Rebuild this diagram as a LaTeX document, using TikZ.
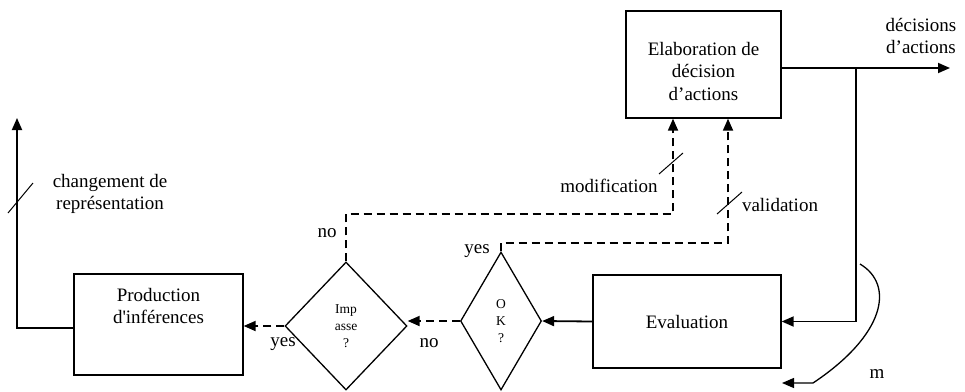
\documentclass[tikz,border=0pt]{standalone}
\usepackage{fontspec}
\setmainfont{Liberation Serif}
\newfontfamily\straightfont{Liberation Serif}
\usetikzlibrary{shapes.geometric,arrows.meta}
\begin{document}
\begin{tikzpicture}[x=1pt,y=-1pt,
  box/.style={draw,line width=1.3pt,rectangle,inner sep=0pt},
  dia/.style={draw,line width=1.3pt,diamond,inner sep=0pt,align=center,font=\fontsize{13.5}{17}\selectfont},
  lbl/.style={inner sep=0pt,align=center,font=\fontsize{19}{22.5}\selectfont},
  conn/.style={line width=1.8pt,-{Triangle[length=12pt,width=10pt]}},
  dconn/.style={conn,dash pattern=on 8pt off 5pt},
  tick/.style={line width=1pt},
]
\useasboundingbox (0,0) rectangle (965,391);
% boxes
\node[box,minimum width=155pt,minimum height=107pt] (elab) at (703.5,64.5) {};
\node[lbl] (elabtxt) at (703.5,71) {Elaboration de\\décision\\d’actions};
\node[box,minimum width=169pt,minimum height=101pt] (prod) at (158.5,324.5) {};
\node[lbl] (prodtxt) at (158.5,306) {Production\\{\straightfont d'inférences}};
\node[box,lbl,minimum width=188pt,minimum height=93pt] (eval) at (687,321.5) {Evaluation};
% diamonds
\node[dia,minimum width=122pt,minimum height=128pt] (imp) at (346,326) {Imp\\asse\\?};
\node[dia,minimum width=81pt,minimum height=138pt] (ok) at (501,321) {O\\K\\?};
% coordinates
\coordinate (outend) at (950,68);
\coordinate (br) at (856,68);
\coordinate (chg) at (17,118);
\coordinate (modc) at (673,214);
\coordinate (valc) at (728,243);
\coordinate (mstart) at (860,264);
\coordinate (mend) at (782,383);
% connectors
\draw[conn] ([yshift=-3.5pt]elab.east) -- (outend);
\draw[conn] (br) |- (eval.east);
\draw[conn] (eval.west) -- (ok.east);
\draw[dconn] (ok.west) -- (ok.west -| imp.east);
\draw[dconn] (imp.west) -- (imp.west -| prod.east);
\draw[conn] ([yshift=-3.5pt]prod.west) -| (chg);
\draw[dconn] (imp.north) |- (modc) -- (modc |- elab.south);
\draw[dconn] (ok.north) |- (valc) -- (valc |- elab.south);
\draw[line width=1.3pt,-{Triangle[length=12pt,width=10pt]}] (mstart) .. controls (895,285) and (885,335) .. (813,383) -- (mend);
% slashes
\draw[tick] (8,213) -- (33,183);
\draw[tick] (659,174) -- (683,153);
\draw[tick] (717,214) -- (742,192);
% labels
\node[lbl] (ldec) at (921,36) {décisions\\d’actions};
\node[lbl] (lchg) at (110,194) {changement de\\représentation};
\node[lbl] (lmod) at (609,186) {modification};
\node[lbl] (lval) at (780,205) {validation};
\node[lbl] (lno1) at (327,233) {no};
\node[lbl] (lyes1) at (283,344) {yes};
\node[lbl] (lyes2) at (477,251) {yes};
\node[lbl] (lno2) at (429,343) {no};
\node[lbl] (lm) at (877,374) {m};
\end{tikzpicture}
\end{document}
